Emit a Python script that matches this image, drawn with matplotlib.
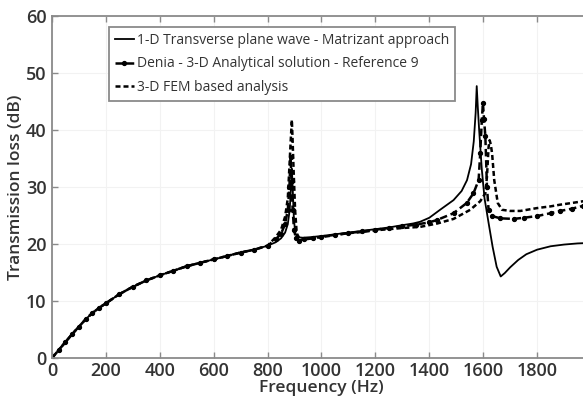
import matplotlib.pyplot as plt

# Transmission loss vs frequency - three models
low_f = [0, 25, 50, 75, 100, 125, 150, 175, 200, 250, 300, 350, 400, 450,
         500, 550, 600, 650, 700, 750, 800]
low_tl = [0, 1.4, 2.8, 4.2, 5.5, 6.8, 7.9, 8.8, 9.6, 11.2, 12.5, 13.6, 14.5,
          15.3, 16.1, 16.7, 17.3, 17.9, 18.5, 19.0, 19.7]

matrizant_f = low_f + [830, 850, 865, 875, 882, 887, 890, 893, 897, 902, 910,
                       930, 960, 1000, 1050, 1100, 1150, 1200, 1250, 1300,
                       1340, 1366, 1400, 1440, 1490, 1520, 1540, 1555, 1565,
                       1572, 1576, 1580, 1585, 1595, 1605, 1620, 1635, 1650,
                       1665, 1680, 1700, 1730, 1760, 1800, 1850, 1900, 1950,
                       2000]
matrizant_tl = low_tl + [20.3, 21.0, 22.0, 23.5, 26.0, 30.0, 33.2, 30.0, 25.0,
                         22.0, 21.2, 21.1, 21.2, 21.4, 21.7, 22.0, 22.3, 22.6,
                         22.9, 23.3, 23.6, 23.9, 24.6, 26.0, 27.7, 29.3, 31.2,
                         34.0, 38.0, 43.0, 47.7, 44.0, 40.0, 33.0, 28.0, 23.7,
                         19.5, 16.0, 14.3, 14.9, 15.9, 17.2, 18.2, 19.0, 19.6,
                         19.9, 20.1, 20.2]

denia_f = low_f + [830, 850, 865, 875, 881, 885, 889, 893, 898, 905, 915, 935,
                   970, 1000, 1050, 1100, 1150, 1200, 1250, 1300, 1350, 1400,
                   1428, 1490, 1539, 1564, 1583, 1589, 1595, 1599, 1603, 1608,
                   1614, 1620, 1633, 1664, 1713, 1750, 1800, 1850, 1886, 1930,
                   1971, 2000]
denia_tl = low_tl + [20.8, 21.8, 23.5, 26.0, 30.0, 35.2, 31.0, 26.0, 22.5,
                     21.0, 20.6, 20.8, 21.0, 21.3, 21.6, 21.9, 22.2, 22.5,
                     22.8, 23.1, 23.4, 23.8, 24.2, 25.4, 27.2, 28.9, 31.2,
                     35.9, 41.8, 44.7, 42.0, 38.9, 30.0, 26.0, 24.9, 24.5,
                     24.4, 24.6, 24.9, 25.4, 25.8, 26.2, 26.7, 27.0]

fem_f = low_f + [830, 850, 865, 875, 881, 886, 890, 893, 896, 902, 908, 921,
                 958, 1000, 1069, 1100, 1150, 1200, 1250, 1300, 1366, 1430,
                 1490, 1552, 1589, 1608, 1614, 1620, 1624, 1628, 1633, 1641,
                 1654, 1670, 1700, 1738, 1800, 1850, 1886, 1930, 1971, 2000]
fem_tl = low_tl + [21.2, 22.5, 24.8, 28.0, 33.6, 38.3, 41.8, 38.0, 33.6, 26.0,
                   21.9, 20.7, 21.0, 21.2, 21.7, 21.9, 22.1, 22.4, 22.6, 22.8,
                   23.0, 23.6, 24.4, 26.0, 27.5, 28.9, 31.8, 37.0, 38.2, 37.5,
                   35.9, 31.2, 27.2, 26.0, 25.8, 25.8, 26.3, 26.6, 26.9, 27.2,
                   27.5, 27.7]

labels = ["1-D Transverse plane wave - Matrizant approach",
          "Denia - 3-D Analytical solution - Reference 9",
          "3-D FEM based analysis"]

plt.rcParams['font.family'] = ['Open Sans', 'DejaVu Sans']

fig = plt.figure(figsize=(5.83, 4.03), dpi=100)
ax = fig.add_axes([0.0892, 0.1117, 0.9245, 0.8486])

ax.plot(matrizant_f, matrizant_tl, color='black', lw=1.3, label=labels[0])
ax.plot(denia_f, denia_tl, color='black', lw=1.8, ls=(0, (3, 1.5)),
        marker='o', ms=2.8, label=labels[1])
ax.plot(fem_f, fem_tl, color='black', lw=1.8, ls=(0, (2, 1.2)),
        label=labels[2])

ax.set_xlim(0, 2000)
ax.set_ylim(0, 60)
ax.set_xticks(range(0, 1801, 200))
ax.set_yticks(range(0, 61, 10))
ax.grid(True, color='#f2f2f2', lw=0.8)

for s in ax.spines.values():
    s.set_color('#8a8a8a')
    s.set_linewidth(1.3)
ax.tick_params(direction='in', length=4, width=1, color='#8a8a8a',
               top=True, right=True, labelsize=13, labelcolor='#333333')
ax.tick_params(axis='x', pad=3)
ax.tick_params(axis='y', pad=4)
for t in ax.get_xticklabels() + ax.get_yticklabels():
    t.set_fontweight('semibold')

ax.set_xlabel("Frequency (Hz)", fontsize=12.5, fontweight='semibold',
              color='#333333', labelpad=0)
ax.set_ylabel("Transmission loss (dB)", fontsize=12.5, fontweight='semibold',
              color='#333333', labelpad=1)

leg = ax.legend(loc='upper left', bbox_to_anchor=(0.106, 0.967),
                borderaxespad=0, fontsize=10, handlelength=1.4,
                handletextpad=0.2, labelspacing=0.62, borderpad=0.4,
                fancybox=False, numpoints=1, framealpha=1)
leg.get_frame().set_edgecolor('#8a8a8a')
leg.get_frame().set_linewidth(1.3)
for t in leg.get_texts():
    t.set_color('#333333')

fig.savefig('out.png', dpi=100)
